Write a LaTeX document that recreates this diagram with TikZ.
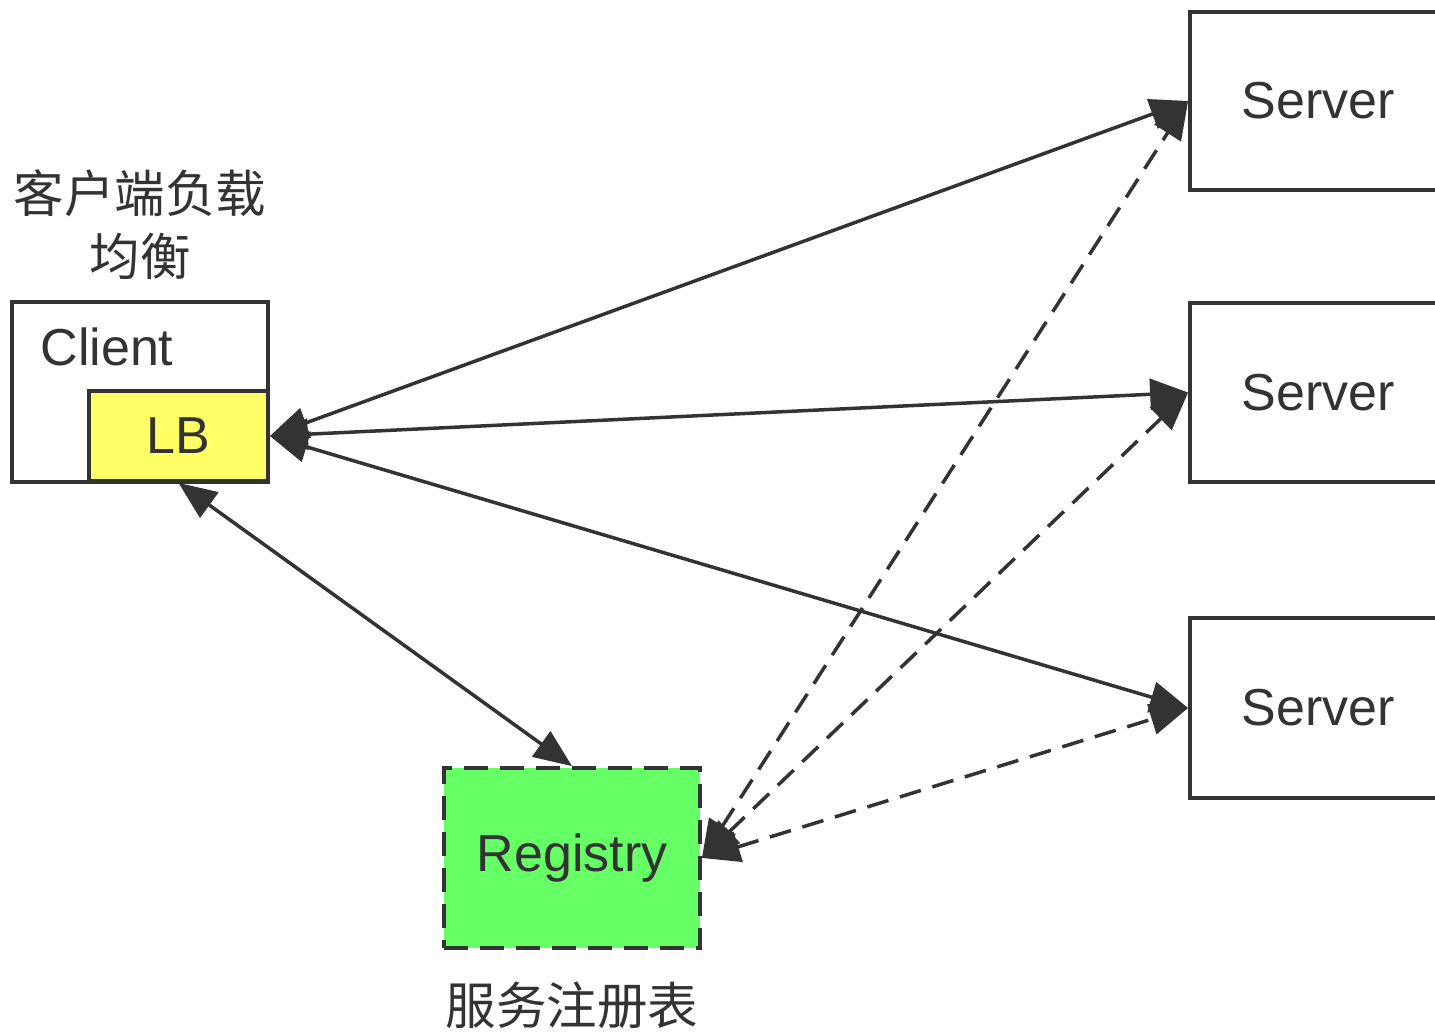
\documentclass[tikz,border=0pt]{standalone}
\usepackage{fontspec}
\setmainfont{Liberation Sans}
\newfontfamily\cjk{Noto Sans CJK SC}
\usetikzlibrary{arrows.meta}
\definecolor{ink}{HTML}{333333}
\definecolor{lbyellow}{HTML}{FFFF66}
\definecolor{reggreen}{HTML}{66FF66}
\begin{document}
\begin{tikzpicture}[x=1pt,y=-1pt,
  box/.style={draw=ink, line width=3.8pt, inner sep=0pt, text=ink, font=\fontsize{52}{58}\selectfont},
  txt/.style={inner sep=0pt, text=ink, font=\fontsize{52}{58}\selectfont},
  cjktxt/.style={inner sep=0pt, text=ink, font=\cjk\fontsize{50.5}{58}\selectfont},
  conn/.style={draw=ink, line width=3.5pt, {Triangle[length=38pt,width=31pt]}-{Triangle[length=38pt,width=31pt]}},
  dconn/.style={conn, dash pattern=on 22pt off 12pt}]
\useasboundingbox (0,0) rectangle (1435,1032);
% boxes
\node[box, minimum width=256pt, minimum height=178pt] (s1) at (1318,101) {Server};
\node[box, minimum width=256pt, minimum height=179pt] (s2) at (1318,392.5) {Server};
\node[box, minimum width=256pt, minimum height=180pt] (s3) at (1318,708) {Server};
\node[box, minimum width=256pt, minimum height=180pt] (client) at (140,392) {};
\node[txt] (clienttxt) at (107,347) {Client};
\node[box, fill=lbyellow, minimum width=179pt, minimum height=90pt] (lb) at (178.5,436) {LB};
\node[box, fill=reggreen, dash pattern=on 24pt off 12pt, minimum width=256pt, minimum height=180pt] (reg) at (572,858) {Registry};
% labels
\node[cjktxt] (lbl1) at (140,193) {客户端负载};
\node[cjktxt] (lbl2) at (140,256) {均衡};
\node[cjktxt] (lbl3) at (572,1005) {服务注册表};
% connectors
\draw[conn] (lb.east) -- (s1.west);
\draw[conn] (lb.east) -- (s2.west);
\draw[conn] (lb.east) -- (s3.west);
\draw[conn] (lb.south) -- (reg.north);
\draw[dconn] (reg.east) -- (s1.west);
\draw[dconn] (reg.east) -- (s2.west);
\draw[dconn] (reg.east) -- (s3.west);
\end{tikzpicture}
\end{document}
